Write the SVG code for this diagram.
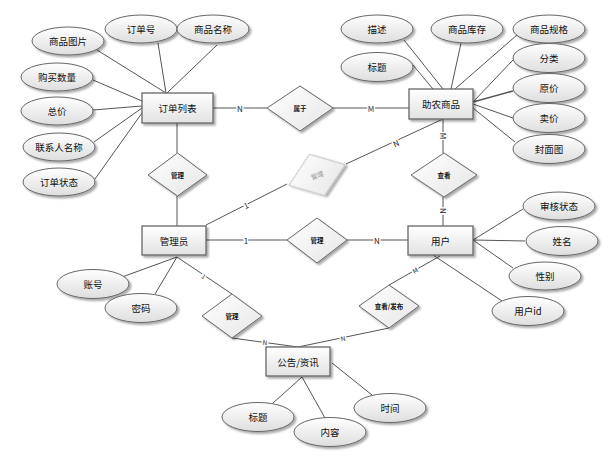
<svg xmlns="http://www.w3.org/2000/svg" width="613" height="456" viewBox="0 0 613 456">
<defs>
<linearGradient id="gE" x1="0" y1="0" x2="0" y2="1"><stop offset="0" stop-color="#ffffff"/><stop offset="1" stop-color="#dedede"/></linearGradient>
<linearGradient id="gR" x1="0" y1="0" x2="0" y2="1"><stop offset="0" stop-color="#ffffff"/><stop offset="1" stop-color="#e2e2e2"/></linearGradient>
<linearGradient id="gD" x1="0" y1="0" x2="1" y2="1"><stop offset="0" stop-color="#ffffff"/><stop offset="1" stop-color="#e6e6e6"/></linearGradient>
<filter id="sh" x="-20%" y="-20%" width="150%" height="160%"><feGaussianBlur in="SourceAlpha" stdDeviation="1"/><feOffset dx="1.5" dy="1.5" result="b"/><feComponentTransfer><feFuncA type="linear" slope="0.35"/></feComponentTransfer><feMerge><feMergeNode/><feMergeNode in="SourceGraphic"/></feMerge></filter>
</defs>
<style>
text{font-family:"Noto Sans CJK SC","Liberation Sans",sans-serif;text-anchor:middle;dominant-baseline:central;fill:#111}
.ent rect{fill:url(#gR);stroke:#666;stroke-width:1.3;filter:url(#sh)}
.ent text{font-size:9.5px}
.att ellipse{fill:url(#gE);stroke:#666;stroke-width:1;filter:url(#sh)}
.att text{font-size:9.5px}
.rel polygon{fill:url(#gD);stroke:#666;stroke-width:1;filter:url(#sh)}
.rel text{font-size:6.5px;font-weight:bold}
#conn line{stroke:#555;stroke-width:1}
.lbl{font-size:8px;fill:#222}
.faint polygon{stroke:#bbb}
.faint text{fill:#999;font-weight:normal}
</style>
<g id="conn">
<line x1="97" y1="50" x2="166" y2="93"/>
<line x1="158" y1="43" x2="166" y2="93"/>
<line x1="217" y1="45" x2="167" y2="93"/>
<line x1="93" y1="80" x2="142" y2="101"/>
<line x1="93" y1="110" x2="142" y2="106"/>
<line x1="94" y1="142" x2="142" y2="108"/>
<line x1="95" y1="179" x2="142" y2="113"/>
<line x1="213" y1="108" x2="267" y2="108"/>
<line x1="333" y1="108" x2="409" y2="108"/>
<line x1="177" y1="123" x2="177" y2="153"/>
<line x1="177" y1="196" x2="177" y2="226"/>
<line x1="206" y1="225" x2="287" y2="184"/>
<line x1="346" y1="164" x2="443" y2="119"/>
<line x1="443" y1="119" x2="443" y2="153"/>
<line x1="443" y1="197" x2="443" y2="226"/>
<line x1="206" y1="240" x2="287" y2="240"/>
<line x1="347" y1="240" x2="408" y2="240"/>
<line x1="404" y1="40" x2="443" y2="89"/>
<line x1="413" y1="65" x2="433" y2="89"/>
<line x1="461" y1="43" x2="451" y2="89"/>
<line x1="517" y1="35" x2="455" y2="89"/>
<line x1="513" y1="60" x2="473" y2="102"/>
<line x1="513" y1="91" x2="473" y2="102" style="stroke-width:1.5"/>
<line x1="513" y1="118" x2="473" y2="104"/>
<line x1="515" y1="142" x2="473" y2="108"/>
<line x1="473" y1="240" x2="523" y2="209"/>
<line x1="473" y1="240" x2="525" y2="241"/>
<line x1="473" y1="240" x2="513" y2="268"/>
<line x1="433" y1="255" x2="502" y2="301"/>
<line x1="440" y1="256" x2="389" y2="285"/>
<line x1="389" y1="328" x2="298" y2="347"/>
<line x1="177" y1="257" x2="232" y2="294"/>
<line x1="232" y1="338" x2="298" y2="347"/>
<line x1="177" y1="257" x2="122" y2="277"/>
<line x1="177" y1="257" x2="155" y2="294"/>
<line x1="302" y1="377" x2="273" y2="403"/>
<line x1="302" y1="377" x2="325" y2="418"/>
<line x1="332" y1="363" x2="372" y2="395"/>
<text class="lbl" x="240" y="108" style="fill:#fff;stroke:#fff;stroke-width:3">N</text><text class="lbl" x="240" y="108">N</text>
<text class="lbl" x="371" y="108" style="fill:#fff;stroke:#fff;stroke-width:3">M</text><text class="lbl" x="371" y="108" style="fill:#203a70">M</text>
<text class="lbl" x="246" y="205" transform="rotate(-27 246 205)" style="fill:#fff;stroke:#fff;stroke-width:3">1</text><text class="lbl" x="246" y="205" transform="rotate(-27 246 205)">1</text>
<text class="lbl" x="396" y="143" transform="rotate(-25 396 143)" style="fill:#fff;stroke:#fff;stroke-width:3">N</text><text class="lbl" x="396" y="143" transform="rotate(-25 396 143)">N</text>
<text class="lbl" x="443" y="136" transform="rotate(90 443 136)" style="fill:#fff;stroke:#fff;stroke-width:3">M</text><text class="lbl" x="443" y="136" transform="rotate(90 443 136)">M</text>
<text class="lbl" x="443" y="211" transform="rotate(90 443 211)" style="fill:#fff;stroke:#fff;stroke-width:3">N</text><text class="lbl" x="443" y="211" transform="rotate(90 443 211)">N</text>
<text class="lbl" x="246" y="240" style="fill:#fff;stroke:#fff;stroke-width:3">1</text><text class="lbl" x="246" y="240">1</text>
<text class="lbl" x="377" y="240" style="fill:#fff;stroke:#fff;stroke-width:3">N</text><text class="lbl" x="377" y="240">N</text>
<text class="lbl" x="415" y="270" transform="rotate(-30 415 270)" style="font-size:6.5px;fill:#fff;stroke:#fff;stroke-width:3">M</text><text class="lbl" x="415" y="270" transform="rotate(-30 415 270)" style="font-size:6.5px">M</text>
<text class="lbl" x="343" y="338" transform="rotate(-12 343 338)" style="font-size:6.5px;fill:#fff;stroke:#fff;stroke-width:3">N</text><text class="lbl" x="343" y="338" transform="rotate(-12 343 338)" style="font-size:6.5px">N</text>
<text class="lbl" x="204" y="276" transform="rotate(35 204 276)" style="font-size:6.5px;fill:#fff;stroke:#fff;stroke-width:3">1</text><text class="lbl" x="204" y="276" transform="rotate(35 204 276)" style="font-size:6.5px">1</text>
<text class="lbl" x="265" y="342" transform="rotate(8 265 342)" style="font-size:6.5px;fill:#fff;stroke:#fff;stroke-width:3">N</text><text class="lbl" x="265" y="342" transform="rotate(8 265 342)" style="font-size:6.5px">N</text>
</g>
<g id="e-order" class="ent"><rect x="142" y="93" width="71" height="30"/><text x="177.5" y="108">订单列表</text></g>
<g id="e-goods" class="ent"><rect x="409" y="89" width="64" height="30"/><text x="441" y="104">助农商品</text></g>
<g id="e-admin" class="ent"><rect x="142" y="226" width="64" height="29"/><text x="174" y="240.5">管理员</text></g>
<g id="e-user" class="ent"><rect x="408" y="226" width="65" height="29"/><text x="440.5" y="240.5">用户</text></g>
<g id="e-notice" class="ent"><rect x="266" y="347" width="64" height="29"/><text x="298" y="361.5">公告/资讯</text></g>
<g id="r-belong" class="rel"><polygon points="267,108 300,86 333,108 300,131"/><text x="300" y="108">属于</text></g>
<g id="r-manage-goods" class="rel faint" transform="rotate(-20 317 175)"><polygon points="287,175 317,153 347,175 317,197"/><text x="317" y="175">管理</text></g>
<g id="r-manage-order" class="rel"><polygon points="148,175 177.5,153 207,175 177.5,196"/><text x="177.5" y="175">管理</text></g>
<g id="r-view" class="rel"><polygon points="411,175 444,153 477,175 444,197"/><text x="444" y="175">查看</text></g>
<g id="r-manage-user" class="rel"><polygon points="287,240 317,218 347,240 317,263"/><text x="317" y="240">管理</text></g>
<g id="r-manage-notice" class="rel"><polygon points="202,316 232,294 262,316 232,338"/><text x="232" y="316">管理</text></g>
<g id="r-view-post" class="rel"><polygon points="359,306 389,285 419,306 389,328"/><text x="389" y="306">查看/发布</text></g>
<g id="a-img" class="att"><ellipse cx="68" cy="41" rx="36" ry="14"/><text x="68" y="41">商品图片</text></g>
<g id="a-orderno" class="att"><ellipse cx="141" cy="29" rx="36" ry="14"/><text x="141" y="29">订单号</text></g>
<g id="a-gname" class="att"><ellipse cx="213" cy="29" rx="36" ry="14"/><text x="213" y="29">商品名称</text></g>
<g id="a-qty" class="att"><ellipse cx="57" cy="77" rx="36" ry="14"/><text x="57" y="77">购买数量</text></g>
<g id="a-total" class="att"><ellipse cx="57" cy="111" rx="36" ry="14"/><text x="57" y="111">总价</text></g>
<g id="a-contact" class="att"><ellipse cx="59" cy="147" rx="36" ry="14"/><text x="59" y="147">联系人名称</text></g>
<g id="a-ostatus" class="att"><ellipse cx="59" cy="182" rx="36" ry="14"/><text x="59" y="182">订单状态</text></g>
<g id="a-desc" class="att"><ellipse cx="377" cy="29" rx="36" ry="14"/><text x="377" y="29">描述</text></g>
<g id="a-stock" class="att"><ellipse cx="467" cy="29" rx="36" ry="14"/><text x="467" y="29">商品库存</text></g>
<g id="a-spec" class="att"><ellipse cx="549" cy="29" rx="36" ry="14"/><text x="549" y="29">商品规格</text></g>
<g id="a-title" class="att"><ellipse cx="377" cy="67" rx="36" ry="14.5"/><text x="377" y="67">标题</text></g>
<g id="a-cat" class="att"><ellipse cx="549" cy="58" rx="36" ry="14.5"/><text x="549" y="58">分类</text></g>
<g id="a-oprice" class="att"><ellipse cx="549" cy="88" rx="36" ry="14.5"/><text x="549" y="88">原价</text></g>
<g id="a-price" class="att"><ellipse cx="549" cy="118" rx="36" ry="14.5"/><text x="549" y="118">卖价</text></g>
<g id="a-cover" class="att"><ellipse cx="549" cy="149" rx="36" ry="14.5"/><text x="549" y="149">封面图</text></g>
<g id="a-audit" class="att"><ellipse cx="559" cy="206" rx="36" ry="14"/><text x="559" y="206">审核状态</text></g>
<g id="a-name" class="att"><ellipse cx="562" cy="241" rx="36" ry="14.5"/><text x="562" y="241">姓名</text></g>
<g id="a-sex" class="att"><ellipse cx="545" cy="276" rx="36" ry="14"/><text x="545" y="276">性别</text></g>
<g id="a-uid" class="att"><ellipse cx="528" cy="311" rx="36" ry="14.5"/><text x="528" y="311">用户id</text></g>
<g id="a-account" class="att"><ellipse cx="93" cy="284" rx="36" ry="14.5"/><text x="93" y="284">账号</text></g>
<g id="a-pwd" class="att"><ellipse cx="141" cy="308" rx="36" ry="14.5"/><text x="141" y="308">密码</text></g>
<g id="a-ntitle" class="att"><ellipse cx="258" cy="417" rx="36" ry="14.5"/><text x="258" y="417">标题</text></g>
<g id="a-content" class="att"><ellipse cx="330" cy="432" rx="36" ry="14.5"/><text x="330" y="432">内容</text></g>
<g id="a-time" class="att"><ellipse cx="390" cy="408" rx="36" ry="14.5"/><text x="390" y="408">时间</text></g>
</svg>
